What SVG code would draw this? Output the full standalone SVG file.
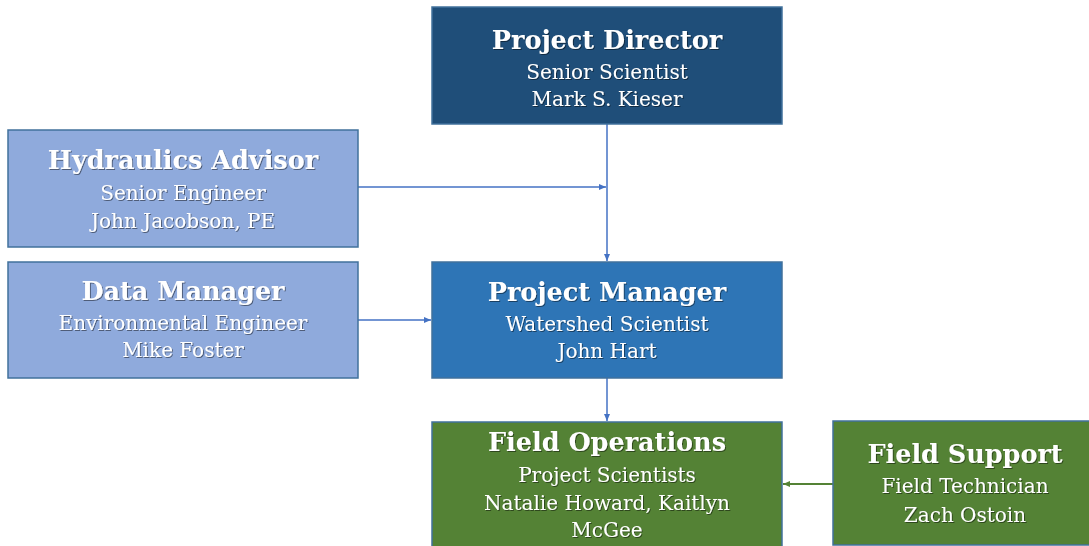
<svg xmlns="http://www.w3.org/2000/svg" width="1089" height="546" viewBox="0 0 1089 546">
<style>
.box{stroke:#41719c;stroke-width:1.5}
.dark{fill:#1f4e79}
.mid{fill:#2e75b6}
.light{fill:#8faadc}
.green{fill:#548235}
text{font-family:"DejaVu Serif","Liberation Serif",serif;fill:#fff;text-anchor:middle;filter:url(#sh)}
.t{font-size:25.5px;font-weight:bold}
.s{font-size:20px}
.c{fill:none;stroke:#4472c4;stroke-width:1.5}
.cg{fill:none;stroke:#548235;stroke-width:2}
</style>
<defs>
<filter id="sh" x="-10%" y="-30%" width="120%" height="160%">
<feDropShadow dx="1" dy="1" stdDeviation="0.7" flood-color="#000" flood-opacity="0.45"/>
</filter>
<marker id="ab" markerWidth="8" markerHeight="8" refX="7" refY="4" orient="auto" markerUnits="userSpaceOnUse">
<path d="M0,1 L7,4 L0,7 Z" fill="#4472c4"/>
</marker>
<marker id="ag" markerWidth="8" markerHeight="8" refX="7" refY="4" orient="auto" markerUnits="userSpaceOnUse">
<path d="M0,1 L7,4 L0,7 Z" fill="#548235"/>
</marker>
</defs>
<rect width="1089" height="546" fill="#fff"/>
<g id="connectors">
<line class="c" x1="607" y1="124" x2="607" y2="261" marker-end="url(#ab)"/>
<line class="c" x1="358" y1="187" x2="606" y2="187" marker-end="url(#ab)"/>
<line class="c" x1="358" y1="320" x2="431" y2="320" marker-end="url(#ab)"/>
<line class="c" x1="607" y1="378" x2="607" y2="421" marker-end="url(#ab)"/>
<line class="cg" x1="833" y1="484" x2="783" y2="484" marker-end="url(#ag)"/>
</g>
<g id="project-director">
<rect class="box dark" x="432" y="7" width="350" height="117"/>
<text class="t" x="607" y="49">Project Director</text>
<text class="s" x="607" y="79">Senior Scientist</text>
<text class="s" x="607" y="106">Mark S. Kieser</text>
</g>
<g id="hydraulics-advisor">
<rect class="box light" x="8" y="130" width="350" height="117"/>
<text class="t" x="183" y="169">Hydraulics Advisor</text>
<text class="s" x="183" y="200">Senior Engineer</text>
<text class="s" x="183" y="228">John Jacobson, PE</text>
</g>
<g id="data-manager">
<rect class="box light" x="8" y="262" width="350" height="116"/>
<text class="t" x="183" y="300">Data Manager</text>
<text class="s" x="183" y="330">Environmental Engineer</text>
<text class="s" x="183" y="357">Mike Foster</text>
</g>
<g id="project-manager">
<rect class="box mid" x="432" y="262" width="350" height="116"/>
<text class="t" x="607" y="301">Project Manager</text>
<text class="s" x="607" y="331">Watershed Scientist</text>
<text class="s" x="607" y="358">John Hart</text>
</g>
<g id="field-operations">
<rect class="box green" x="432" y="422" width="350" height="130"/>
<text class="t" x="607" y="451">Field Operations</text>
<text class="s" x="607" y="482">Project Scientists</text>
<text class="s" x="607" y="510">Natalie Howard, Kaitlyn</text>
<text class="s" x="607" y="537">McGee</text>
</g>
<g id="field-support">
<rect class="box green" x="833" y="421" width="264" height="124"/>
<text class="t" x="965" y="463">Field Support</text>
<text class="s" x="965" y="493">Field Technician</text>
<text class="s" x="965" y="522">Zach Ostoin</text>
</g>
</svg>
